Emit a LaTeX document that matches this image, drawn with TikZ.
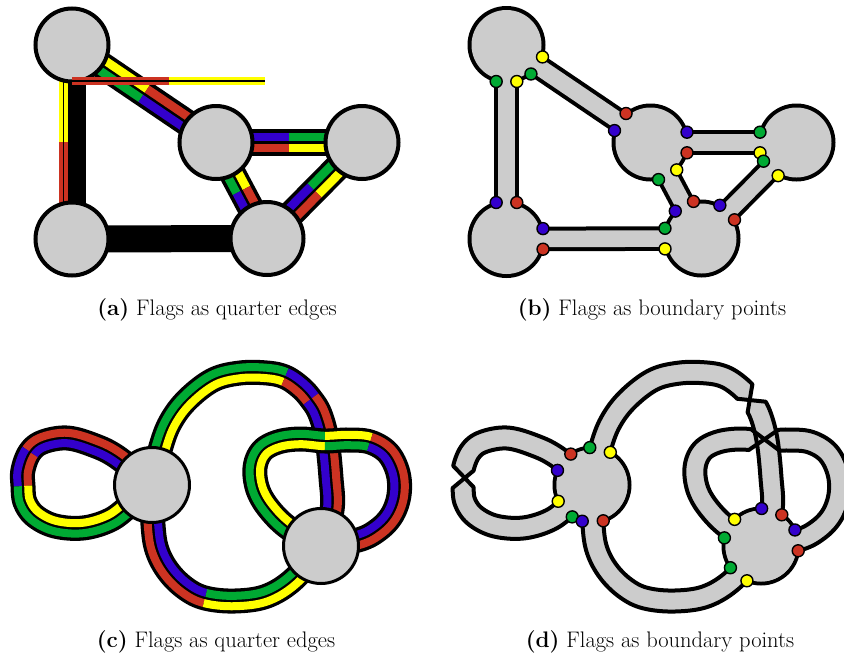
\documentclass[tikz,border=0pt]{standalone}
\usetikzlibrary{calc,intersections}
\definecolor{fgray}{RGB}{204,204,204}
\definecolor{fred}{RGB}{204,51,34}
\definecolor{fblue}{RGB}{51,0,204}
\definecolor{fgreen}{RGB}{0,170,51}
\definecolor{fyellow}{RGB}{255,255,0}
\tikzset{
  vtx/.style={fill=fgray,draw=black,line width=4pt},
  vtxc/.style={fill=fgray,draw=black,line width=3pt},
  fdot/.style={draw=black,line width=1.4pt,fill=#1},
  captext/.style={font=\fontsize{22.5}{25}\selectfont,anchor=base},
}
% straight flag band with four coloured quarters
\newcommand\qband[6]{%
  \draw[line width=27pt] (#1) -- (#2);
  \coordinate (qm) at ($(#1)!0.5!(#2)$);
  \draw[line width=8.5pt,#3] ($(#1)!5.6pt!90:(#2)$) -- ($(qm)!5.6pt!90:(#2)$);
  \draw[line width=8.5pt,#4] ($(qm)!5.6pt!90:(#2)$) -- ($(#2)!5.6pt!-90:(#1)$);
  \draw[line width=8.5pt,#5] ($(#1)!5.6pt!-90:(#2)$) -- ($(qm)!5.6pt!-90:(#2)$);
  \draw[line width=8.5pt,#6] ($(qm)!5.6pt!-90:(#2)$) -- ($(#2)!5.6pt!90:(#1)$);}
% boundary dots of a straight band
\newcommand\bdots[6]{%
  \path[fdot=#3] ($(#1)!36.5pt!(#2)!10.3pt!90:(#2)$) circle[radius=6pt];
  \path[fdot=#4] ($(#2)!36.5pt!(#1)!10.3pt!-90:(#1)$) circle[radius=6pt];
  \path[fdot=#5] ($(#1)!36.5pt!(#2)!10.3pt!-90:(#2)$) circle[radius=6pt];
  \path[fdot=#6] ($(#2)!36.5pt!(#1)!10.3pt!90:(#1)$) circle[radius=6pt];}
% Catmull-Rom sampling of a centre line through way points
\newcommand\sbpoint[3]{%
  \pgfmathtruncatemacro\kA{max(#2-2,0)}%
  \pgfmathtruncatemacro\kB{#2-1}%
  \pgfmathtruncatemacro\kC{#2}%
  \pgfmathtruncatemacro\kD{min(#2+1,\NWP-1)}%
  \pgfmathsetmacro\xa{\XS[\kA]}\pgfmathsetmacro\xb{\XS[\kB]}%
  \pgfmathsetmacro\xc{\XS[\kC]}\pgfmathsetmacro\xd{\XS[\kD]}%
  \pgfmathsetmacro\ya{\YS[\kA]}\pgfmathsetmacro\yb{\YS[\kB]}%
  \pgfmathsetmacro\yc{\YS[\kC]}\pgfmathsetmacro\yd{\YS[\kD]}%
  \pgfmathsetmacro\tv{#3}%
  \pgfmathsetmacro\cpx{0.5*(2*\xb+(\xc-\xa)*\tv+(2*\xa-5*\xb+4*\xc-\xd)*\tv*\tv+(3*\xb-\xa-3*\xc+\xd)*\tv*\tv*\tv)}%
  \pgfmathsetmacro\cpy{0.5*(2*\yb+(\yc-\ya)*\tv+(2*\ya-5*\yb+4*\yc-\yd)*\tv*\tv+(3*\yb-\ya-3*\yc+\yd)*\tv*\tv*\tv)}%
  \pgfmathsetmacro\cdx{0.5*((\xc-\xa)+2*(2*\xa-5*\xb+4*\xc-\xd)*\tv+3*(3*\xb-\xa-3*\xc+\xd)*\tv*\tv)}%
  \pgfmathsetmacro\cdy{0.5*((\yc-\ya)+2*(2*\ya-5*\yb+4*\yc-\yd)*\tv+3*(3*\yb-\ya-3*\yc+\yd)*\tv*\tv)}%
  \pgfmathsetmacro\cdl{veclen(\cdx,\cdy)}%
  \pgfmathsetmacro\cnx{(\cdy)/\cdl}%
  \pgfmathsetmacro\cny{-1*(\cdx)/\cdl}%
  \pgfmathsetmacro\clx{\cpx+5.2*(\cnx)}\pgfmathsetmacro\cly{\cpy+5.2*(\cny)}%
  \pgfmathsetmacro\crx{\cpx-5.2*(\cnx)}\pgfmathsetmacro\cry{\cpy-5.2*(\cny)}%
  \pgfmathsetmacro\dlx{\cpx+440+10.5*(\cnx)}\pgfmathsetmacro\dly{\cpy+10.5*(\cny)}%
  \pgfmathsetmacro\drx{\cpx+440-10.5*(\cnx)}\pgfmathsetmacro\dry{\cpy-10.5*(\cny)}%
  \coordinate (#1C\idx) at (\cpx,\cpy);
  \coordinate (#1L\idx) at (\clx,\cly);
  \coordinate (#1R\idx) at (\crx,\cry);
  \coordinate (d#1L\idx) at (\dlx,\dly);
  \coordinate (d#1R\idx) at (\drx,\dry);}
\newcommand\sampleband[4]{% prefix, number of way points, xs, ys
  \def\XS{#3}\def\YS{#4}\def\NWP{#2}%
  \pgfmathtruncatemacro\nseg{#2-1}%
  \foreach \s in {1,...,\nseg}{%
    \foreach \sk in {0,...,9}{%
      \pgfmathtruncatemacro\idx{(\s-1)*10+\sk+1}%
      \sbpoint{#1}{\s}{\sk/10}}}%
  \pgfmathtruncatemacro\idx{\nseg*10+1}%
  \sbpoint{#1}{\nseg}{1}}
\newcommand\polydraw[4]{%
  \pgfmathtruncatemacro\pdnext{#3+1}%
  \draw[#1] (#2#3) \foreach \i in {\pdnext,...,#4}{-- (#2\i)};}
\newcommand\lane[4]{\polydraw{line width=8pt,#4,line join=round}{#1}{#2}{#3}}
\newcommand\twistedge[6]{% name, prefix, first side, second side, twist index, last index
  \pgfmathtruncatemacro\tka{#5-6}\pgfmathtruncatemacro\tkb{#5+6}%
  \draw[line width=4pt,line join=round,name path=#1] (#2#31)
    \foreach \i in {2,...,\tka}{-- (#2#3\i)} \foreach \i in {\tkb,...,#6}{-- (#2#4\i)};}
\newcommand\twistfill[3]{%
  \pgfmathtruncatemacro\tka{#2-6}\pgfmathtruncatemacro\tkb{#2+6}%
  \fill[fgray] (#1L1) \foreach \i in {2,...,\tka}{-- (#1L\i)}
    \foreach \i in {\tkb,...,#3}{-- (#1R\i)}
    \foreach \i in {#3,...,\tkb}{-- (#1L\i)}
    \foreach \i in {\tka,...,1}{-- (#1R\i)} -- cycle;}
\newcommand\plainfill[2]{%
  \fill[fgray] (#1L1) \foreach \i in {2,...,#2}{-- (#1L\i)}
    \foreach \i in {#2,...,1}{-- (#1R\i)} -- cycle;}
\begin{document}
\begin{tikzpicture}[x=1pt,y=-1pt]
\useasboundingbox[fill=white] (0,0) rectangle (844,659);
%%%%%%%%%%%%%%%% (a)
\coordinate (A) at (72,45);
\coordinate (B) at (72,239);
\coordinate (C) at (216,142.5);
\coordinate (D) at (362,142.5);
\coordinate (E) at (267,238.5);
\draw[line width=27pt] (A) -- (B);
\draw[line width=27pt] (B) -- (E);
\coordinate (ABm) at ($(A)!0.5!(B)$);
\draw[line width=8.5pt,fyellow] ([xshift=-8.5pt]A) -- ([xshift=-8.5pt]ABm);
\draw[line width=8.5pt,fred] ([xshift=-8.5pt]ABm) -- ([xshift=-8.5pt]B);
\draw[line width=1.2pt] ([xshift=-8.5pt]A) -- ([xshift=-8.5pt]B);
\qband{A}{C}{fyellow}{fred}{fgreen}{fblue}
\qband{C}{D}{fblue}{fgreen}{fred}{fyellow}
\qband{C}{E}{fyellow}{fred}{fgreen}{fblue}
\qband{D}{E}{fyellow}{fred}{fgreen}{fblue}
\foreach \v in {A,B,C,D,E} \draw[vtx] (\v) circle[radius=36.5pt];
\coordinate (H1) at ($(A)+(0,36)$);
\coordinate (H2) at ($(A)+(193,36)$);
\coordinate (Hm) at ($(H1)!0.5!(H2)$);
\draw[line width=8pt,fred] (H1) -- (Hm);
\draw[line width=8pt,fyellow] (Hm) -- (H2);
\draw[line width=1.2pt] (H1) -- (H2);
%%%%%%%%%%%%%%%% (b)
\foreach \n in {A,B,C,D,E} \coordinate (\n2) at ($(\n)+(434.5,0)$);
\foreach \p/\q in {A2/B2,A2/C2,C2/D2,C2/E2,D2/E2,B2/E2} \draw[line width=24.6pt] (\p) -- (\q);
\foreach \v in {A2,B2,C2,D2,E2} \fill (\v) circle[radius=39pt];
\foreach \p/\q in {A2/B2,A2/C2,C2/D2,C2/E2,D2/E2,B2/E2} \draw[fgray,line width=16.6pt] (\p) -- (\q);
\foreach \v in {A2,B2,C2,D2,E2} \fill[fgray] (\v) circle[radius=35pt];
\bdots{A2}{C2}{fyellow}{fred}{fgreen}{fblue}
\bdots{A2}{B2}{fyellow}{fred}{fgreen}{fblue}
\bdots{C2}{D2}{fblue}{fgreen}{fred}{fyellow}
\bdots{D2}{E2}{fyellow}{fred}{fgreen}{fblue}
\bdots{C2}{E2}{fyellow}{fred}{fgreen}{fblue}
\bdots{B2}{E2}{fblue}{fgreen}{fred}{fyellow}
%%%%%%%%%%%%%%%% sampling of the curved ribbons of (c) and (d)
\sampleband{ll}{15}{{152,117,93,67,43,30,23,23,25,35,55,83,110,130,152}}{{485,457,445,438,442,452,470,486,502,516,526,528,520,505,485}}
\sampleband{ta}{15}{{152,160,170,187,213,240,267,285,300,311,320,327,331,332,321}}{{485,450,423,400,380,373,373,377,387,399,414,440,478,510,546}}
\sampleband{ba}{10}{{152,153,157,168,185,205,235,267,295,321}}{{485,525,550,571,588,598,601,596,578,546}}
\sampleband{rl}{18}{{321,290,270,258,255,262,278,300,325,348,370,388,398,399,392,378,358,321}}{{546,529,510,490,468,451,442,439,441,440,442,453,473,495,515,530,540,546}}
%%%%%%%%%%%%%%%% (c)
\coordinate (V1) at (152,485);
\coordinate (V2) at (321,546);
\polydraw{line width=25pt,line join=round}{taC}{1}{141}
\lane{taL}{1}{71}{fgreen}\lane{taL}{71}{91}{fblue}\lane{taL}{91}{141}{fred}
\lane{taR}{1}{71}{fyellow}\lane{taR}{71}{91}{fred}\lane{taR}{91}{141}{fblue}
\polydraw{line width=25pt,line join=round}{baC}{1}{91}
\lane{baL}{1}{51}{fblue}\lane{baL}{51}{91}{fgreen}
\lane{baR}{1}{51}{fred}\lane{baR}{51}{91}{fyellow}
\polydraw{line width=25pt,line join=round}{llC}{1}{141}
\lane{llL}{1}{51}{fblue}\lane{llL}{51}{71}{fred}\lane{llL}{71}{141}{fyellow}
\lane{llR}{1}{51}{fred}\lane{llR}{51}{71}{fblue}\lane{llR}{71}{141}{fgreen}
\polydraw{line width=25pt,line join=round}{rlC}{1}{171}
\lane{rlL}{1}{81}{fgreen}\lane{rlL}{81}{101}{fyellow}\lane{rlL}{101}{171}{fred}
\lane{rlR}{1}{81}{fyellow}\lane{rlR}{81}{101}{fgreen}\lane{rlR}{101}{171}{fblue}
\draw[vtxc] (V1) circle[radius=37.5pt];
\draw[vtxc] (V2) circle[radius=37.5pt];
%%%%%%%%%%%%%%%% (d)
\coordinate (V1d) at (592,485);
\coordinate (V2d) at (761,546);
\fill (V1d) circle[radius=39.5pt];
\fill (V2d) circle[radius=39.5pt];
\fill[fgray] (V1d) circle[radius=35.5pt];
\fill[fgray] (V2d) circle[radius=35.5pt];
\twistfill{dll}{66}{141}
\twistfill{dta}{91}{141}
\plainfill{dba}{91}
\twistfill{drl}{81}{171}
\twistedge{llA}{dll}{L}{R}{66}{141}
\twistedge{llB}{dll}{R}{L}{66}{141}
\twistedge{taA}{dta}{L}{R}{91}{141}
\twistedge{taB}{dta}{R}{L}{91}{141}
\polydraw{line width=4pt,line join=round,name path=baL}{dbaL}{1}{91}
\polydraw{line width=4pt,line join=round,name path=baR}{dbaR}{1}{91}
\twistedge{rlA}{drl}{L}{R}{81}{171}
\twistedge{rlB}{drl}{R}{L}{81}{171}
\fill[fgray] (V1d) circle[radius=35.5pt];
\fill[fgray] (V2d) circle[radius=35.5pt];
\path[name path=cva] (V1d) circle[radius=37.5pt];
\path[name path=cvb] (V2d) circle[radius=37.5pt];
\path[name intersections={of=llA and cva,sort by=llA,name=ia}];
\path[fdot=fblue] (ia-1) circle[radius=6pt];
\path[fdot=fgreen] (ia-2) circle[radius=6pt];
\path[name intersections={of=llB and cva,sort by=llB,name=ia}];
\path[fdot=fred] (ia-1) circle[radius=6pt];
\path[fdot=fyellow] (ia-2) circle[radius=6pt];
\path[name intersections={of=taA and cva,sort by=taA,name=ia}];
\path[name intersections={of=taA and cvb,sort by=taA,name=ib}];
\path[fdot=fgreen] (ia-1) circle[radius=6pt];
\path[fdot=fblue] (ib-1) circle[radius=6pt];
\path[name intersections={of=taB and cva,sort by=taB,name=ia}];
\path[name intersections={of=taB and cvb,sort by=taB,name=ib}];
\path[fdot=fyellow] (ia-1) circle[radius=6pt];
\path[fdot=fred] (ib-1) circle[radius=6pt];
\path[name intersections={of=baL and cva,sort by=baL,name=ia}];
\path[name intersections={of=baL and cvb,sort by=baL,name=ib}];
\path[fdot=fred] (ia-1) circle[radius=6pt];
\path[fdot=fgreen] (ib-1) circle[radius=6pt];
\path[name intersections={of=baR and cva,sort by=baR,name=ia}];
\path[name intersections={of=baR and cvb,sort by=baR,name=ib}];
\path[fdot=fblue] (ia-1) circle[radius=6pt];
\path[fdot=fyellow] (ib-1) circle[radius=6pt];
\path[name intersections={of=rlA and cvb,sort by=rlA,name=ia}];
\path[fdot=fgreen] (ia-1) circle[radius=6pt];
\path[fdot=fblue] (ia-2) circle[radius=6pt];
\path[name intersections={of=rlB and cvb,sort by=rlB,name=ia}];
\path[fdot=fyellow] (ia-1) circle[radius=6pt];
\path[fdot=fred] (ia-2) circle[radius=6pt];
%%%%%%%%%%%%%%%% captions
\node[captext] (capa) at (217,315) {\textbf{(a)} Flags as quarter edges};
\node[captext] (capb) at (652,315) {\textbf{(b)} Flags as boundary points};
\node[captext] (capc) at (216,647) {\textbf{(c)} Flags as quarter edges};
\node[captext] (capd) at (660,647) {\textbf{(d)} Flags as boundary points};
\end{tikzpicture}
\end{document}
